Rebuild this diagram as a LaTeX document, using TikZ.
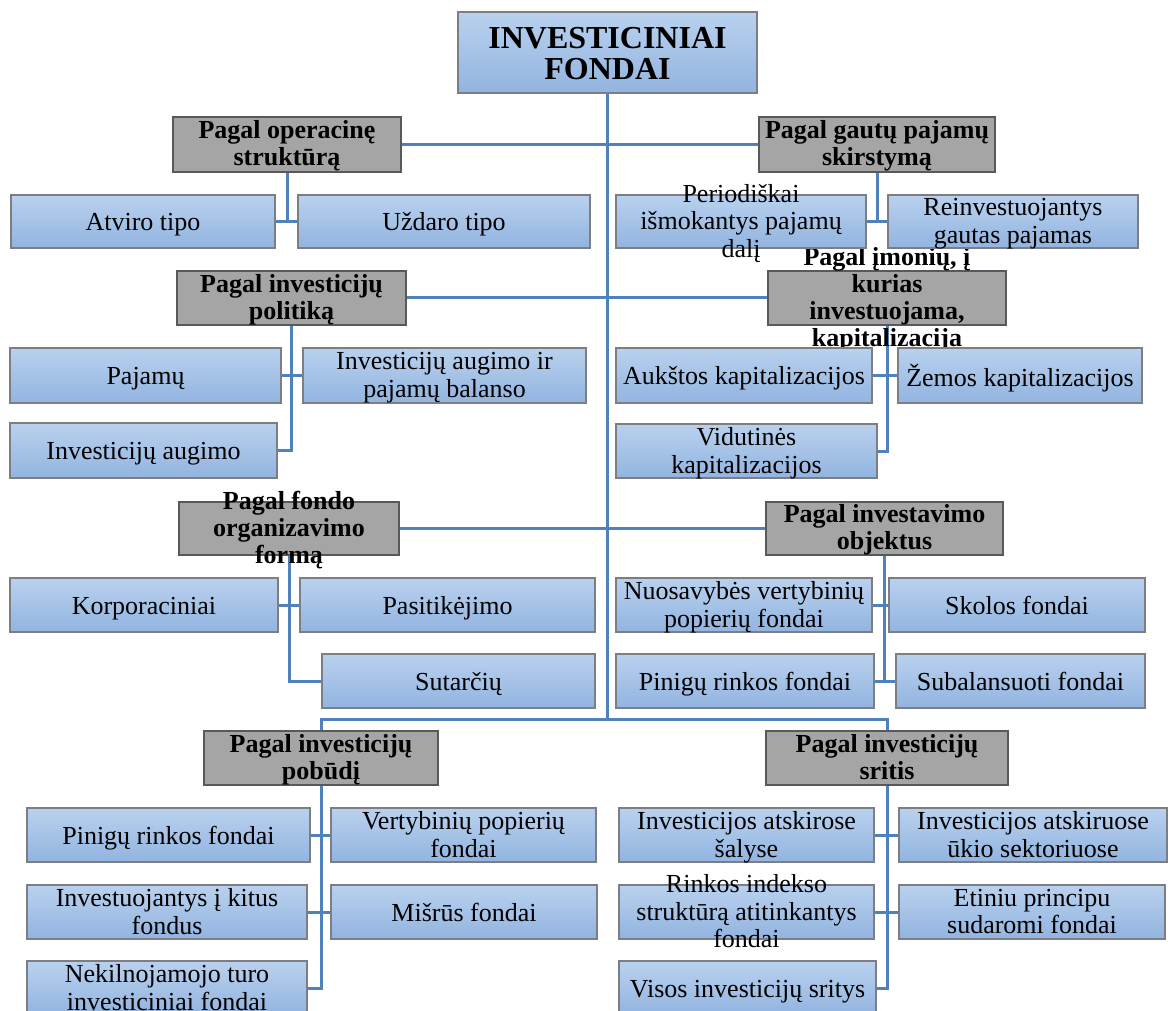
\documentclass[tikz,border=0pt]{standalone}
\usepackage{fontspec}
\setmainfont{Liberation Serif}
\definecolor{linkblue}{HTML}{4F81BD}
\definecolor{boxtop}{HTML}{B9D1EE}
\definecolor{boxbot}{HTML}{92B4E0}
\definecolor{boxedge}{HTML}{7C7E84}
\definecolor{headfill}{HTML}{A6A5A5}
\definecolor{headedge}{HTML}{595959}
\pgfdeclarelayer{links}
\pgfsetlayers{links,main}

\tikzset{
  leafbox/.style={draw=boxedge, line width=1.2, top color=boxtop, bottom color=boxbot, inner sep=0},
  headbox/.style={draw=headedge, line width=1.2, fill=headfill, inner sep=0},
  leaftext/.style={inner sep=0, align=center, yshift=-3.5pt,
    execute at begin node=\strut, execute at end node=\strut,
    font=\fontsize{26}{27.5}\selectfont},
  headtext/.style={inner sep=0, align=center, yshift=-3pt,
    execute at begin node=\strut, execute at end node=\strut,
    font=\fontsize{26}{27}\selectfont\bfseries},
  roottext/.style={inner sep=0, align=center, yshift=-1pt, font=\fontsize{32}{31}\selectfont\bfseries},
  link/.style={draw=linkblue, line width=3}
}

% box with a fixed size; its text is set on top and may run past the frame
\newcommand\leaf[6]{%
  \node[leafbox, minimum width={(#4-#2)*1pt}, minimum height={(#5-#3)*1pt}] (#1) at ({(#2+#4)/2},{(#3+#5)/2}) {};
  \node[leaftext] at (#1.center) {#6};}
\newcommand\head[6]{%
  \node[headbox, minimum width={(#4-#2)*1pt}, minimum height={(#5-#3)*1pt}] (#1) at ({(#2+#4)/2},{(#3+#5)/2}) {};
  \node[headtext] at (#1.center) {#6};}

\begin{document}
\begin{tikzpicture}[x=1pt, y=-1pt]
\useasboundingbox (0,0) rectangle (1168,1011);
\clip (0,0) rectangle (1168,1011);

% root
\node[leafbox, minimum width=299pt, minimum height=81pt] (root) at (607.5,52.5) {};
\node[roottext] at (root.center) {INVESTICINIAI\\FONDAI};
\coordinate (jn) at (607.5,719);

% category headers
\head{h1}{173}{117}{401}{172}{Pagal operacinę\\struktūrą}
\head{h2}{759}{117}{995}{172}{Pagal gautų pajamų\\skirstymą}
\head{h3}{177}{271}{406}{325}{Pagal investicijų\\politiką}
\head{h4}{768}{271}{1006}{325}{Pagal įmonių, į\\kurias\\investuojama,\\kapitalizacija}
\head{h5}{179}{502}{399}{555}{Pagal fondo\\organizavimo\\formą}
\head{h6}{766}{502}{1003}{555}{Pagal investavimo\\objektus}
\head{h7}{204}{731}{438}{785}{Pagal investicijų\\pobūdį}
\head{h8}{766}{731}{1008}{785}{Pagal investicijų\\sritis}

% fund types
\leaf{a1}{11}{195}{275}{248}{Atviro tipo}
\leaf{a2}{298}{195}{590}{248}{Uždaro tipo}
\leaf{a3}{616}{195}{866}{248}{Periodiškai\\išmokantys pajamų\\dalį}
\leaf{a4}{888}{195}{1138}{248}{Reinvestuojantys\\gautas pajamas}

\leaf{b1}{10}{348}{281}{403}{Pajamų}
\leaf{b2}{303}{348}{586}{403}{Investicijų augimo ir\\pajamų balanso}
\leaf{c1}{10}{423}{277}{478}{Investicijų augimo}
\leaf{b3}{616}{348}{872}{403}{Aukštos kapitalizacijos}
\leaf{b4}{898}{348}{1142}{403}{Žemos kapitalizacijos}
\leaf{c3}{616}{424}{877}{478}{Vidutinės\\kapitalizacijos}

\leaf{d1}{10}{578}{278}{632}{Korporaciniai}
\leaf{d2}{300}{578}{595}{632}{Pasitikėjimo}
\leaf{e2}{322}{654}{595}{708}{Sutarčių}
\leaf{d3}{616}{578}{872}{632}{Nuosavybės vertybinių\\popierių fondai}
\leaf{d4}{889}{578}{1145}{632}{Skolos fondai}
\leaf{e3}{616}{654}{874}{708}{Pinigų rinkos fondai}
\leaf{e4}{896}{654}{1145}{708}{Subalansuoti fondai}

\leaf{f1}{27}{808}{310}{862}{Pinigų rinkos fondai}
\leaf{f2}{331}{808}{596}{862}{Vertybinių popierių\\fondai}
\leaf{g1}{27}{885}{307}{939}{Investuojantys į kitus\\fondus}
\leaf{g2}{331}{885}{597}{939}{Mišrūs fondai}
\leaf{k1}{27}{961}{307}{1015}{Nekilnojamojo turo\\investiciniai fondai}
\leaf{f3}{619}{808}{874}{862}{Investicijos atskirose\\šalyse}
\leaf{f4}{899}{808}{1167}{862}{Investicijos atskiruose\\ūkio sektoriuose}
\leaf{g3}{619}{885}{874}{939}{Rinkos indekso\\struktūrą atitinkantys\\fondai}
\leaf{g4}{899}{885}{1165}{939}{Etiniu principu\\sudaromi fondai}
\leaf{k3}{619}{961}{876}{1015}{Visos investicijų sritys}

% connectors
\begin{pgfonlayer}{links}
  \path[link] (root.south) -- (jn);
  \path[link] (h1.east) -- (h2.west);
  \path[link] (h3.east) -- (h4.west);
  \path[link] (h5.east) -- (h6.west);
  \path[link] (h7.north) |- (jn) -| (h8.north);
  \foreach \c in {a1,a2} \path[link] (h1.south) |- (\c);
  \foreach \c in {a3,a4} \path[link] (h2.south) |- (\c);
  \foreach \c in {b1,b2,c1} \path[link] (h3.south) |- (\c);
  \foreach \c in {b3,b4,c3} \path[link] (h4.south) |- (\c);
  \foreach \c in {d1,d2,e2} \path[link] (h5.south) |- (\c);
  \foreach \c in {d3,d4,e3,e4} \path[link] (h6.south) |- (\c);
  \foreach \c in {f1,f2,g1,g2,k1} \path[link] (h7.south) |- (\c);
  \foreach \c in {f3,f4,g3,g4,k3} \path[link] (h8.south) |- (\c);
\end{pgfonlayer}
\end{tikzpicture}
\end{document}
